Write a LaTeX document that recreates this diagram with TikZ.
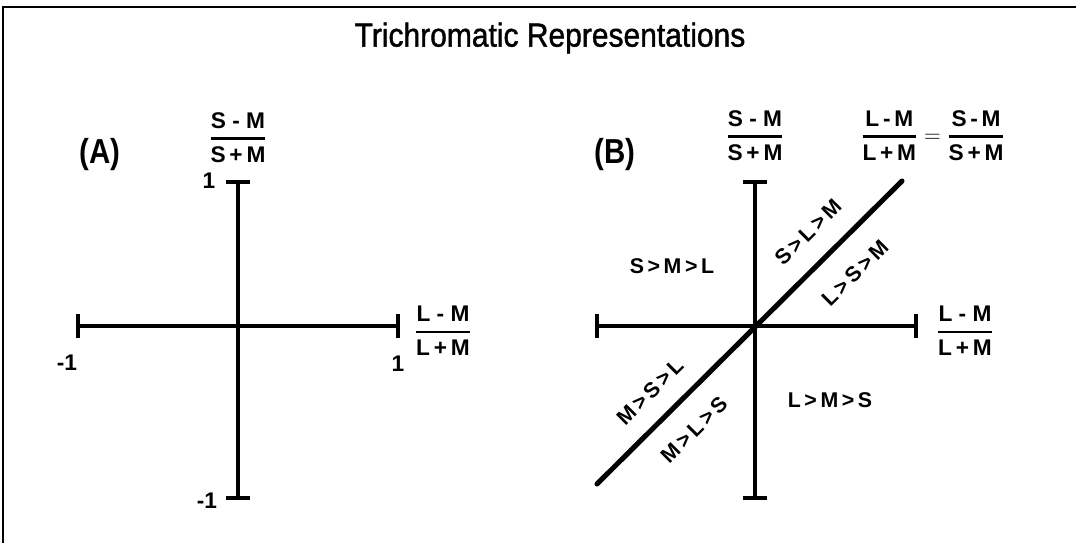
\documentclass[tikz,border=0pt]{standalone}
\usepackage{amsmath}
\usepackage{fontspec}
\setmainfont{Liberation Sans}
\newfontfamily\titlefont{Liberation Sans}[FakeStretch=0.9, FakeBold=1.2]
\newfontfamily\panelfont{Liberation Sans}[FakeStretch=0.85]
\usetikzlibrary{arrows.meta}

\newcommand{\ratio}[2]{{\text{#1}\above 1.8pt\text{#2}}}

\begin{document}
\begin{tikzpicture}[
    x=0.75pt, y=-0.75pt,
    every node/.style={inner sep=1pt, font=\fontsize{17}{19}\selectfont\bfseries},
    axis/.style={line width=3pt},
    ticked/.style={axis, {Bar[width=18pt]}-{Bar[width=18pt]}},
    diag/.style={line width=3.8pt, line cap=round},
    region/.style={font=\fontsize{16}{18}\selectfont\bfseries},
    panel/.style={font=\panelfont\fontsize{26}{28}\selectfont\bfseries},
    frame/.style={line width=1.5pt}
]
\useasboundingbox (0,0) rectangle (1076,543);
\draw[frame] (3,543) -- (3,7) -- (1076,7);

\node[font=\titlefont\fontsize{25}{28}\selectfont] (title) at (550,38) {Trichromatic Representations};

% panel A
\coordinate (At) at (238,180); \coordinate (Ab) at (238,500);
\coordinate (Al) at (76,326); \coordinate (Ar) at (400,326);
\draw[ticked] (At) -- (Ab);
\draw[ticked] (Al) -- (Ar);

\node[panel] (labA) at (100,155) {(A)};
\node (yA) at (238,138) {$\displaystyle\ratio{S\;-\;M}{S\,+\,M}$};
\node (xA) at (443,331) {$\displaystyle\ratio{L\;-\;M}{L\,+\,M}$};
\node (topA) at (209,181) {1};
\node (botA) at (207,501) {-1};
\node (lftA) at (67,363) {-1};
\node (rgtA) at (398,364) {1};

% panel B
\coordinate (Bt) at (755,180); \coordinate (Bb) at (755,500);
\coordinate (Bl) at (595,326); \coordinate (Br) at (918,326);
\coordinate (Bdl) at (597,484); \coordinate (Bdu) at (902,181);
\draw[ticked] (Bt) -- (Bb);
\draw[ticked] (Bl) -- (Br);
\draw[diag] (Bdl) -- (Bdu);

\node[panel] (labB) at (615,155) {(B)};
\node (yB) at (755,136) {$\displaystyle\ratio{S\;-\;M}{S\,+\,M}$};
\node (xB) at (965,331) {$\displaystyle\ratio{L\;-\;M}{L\,+\,M}$};
\node (eqB) at (933,136) {$\displaystyle\ratio{L\,-\,M}{L\,+\,M}=\ratio{S\,-\,M}{S\,+\,M}$};

\node[region] (smlB) at (672,266) {S\,>\,M\,>\,L};
\node[region] (lmsB) at (830,400) {L\,>\,M\,>\,S};
\node[region, rotate=45] (slmB) at (808,232) {S\,>\,L\,>\,M};
\node[region, rotate=45] (lsmB) at (855,273) {L\,>\,S\,>\,M};
\node[region, rotate=45] (mslB) at (650,392) {M\,>\,S\,>\,L};
\node[region, rotate=45] (mlsB) at (694,430) {M\,>\,L\,>\,S};
\end{tikzpicture}
\end{document}
